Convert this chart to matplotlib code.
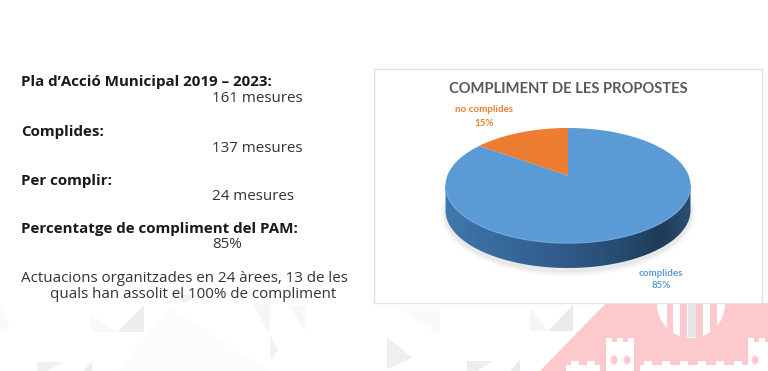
import matplotlib
matplotlib.use("Agg")
import matplotlib.pyplot as plt
import numpy as np
from matplotlib.patches import PathPatch, Polygon, Rectangle, Ellipse
from matplotlib.path import Path

# data
categories = ["no complides", "complides"]
percents = [15, 85]
pie_colors = ["#ED7D31", "#5B9BD5"]
title = "COMPLIMENT DE LES PROPOSTES"

headings = ["Pla d\u2019Acci\u00f3 Municipal 2019 \u2013 2023:", "Complides:", "Per complir:",
            "Percentatge de compliment del PAM:"]
heading_vals = ["161 mesures", "137 mesures", "24 mesures", "85%"]
footnote = ["Actuacions organitzades en 24 \u00e0rees, 13 de les", "quals han assolit el 100% de compliment"]

W, H = 768, 371
fig = plt.figure(figsize=(W / 100, H / 100), dpi=100, facecolor="white")
ax = fig.add_axes([0, 0, 1, 1])

# background triangles
greys = [
    ([(144, 305), (144, 332), (117, 332)], "#eeeeee"),
    ([(90, 315), (117, 332), (90, 332)], "#f9f9f9"),
    ([(37, 362), (63, 362), (47, 371), (37, 371)], "#f0f0f0"),
    ([(92, 362), (92, 371), (83, 371)], "#ebebeb"),
    ([(170, 308), (270, 371), (118, 371)], "#fcfcfc"),
    ([(253, 304), (270, 304), (270, 335)], "#f5f5f5"),
    ([(173, 295), (197, 295), (185, 303)], "#f0f0f0"),
    ([(0, 305), (0, 330), (10, 328)], "#fafafa"),
    ([(387, 337), (412, 358), (387, 369)], "#efefef"),
    ([(270, 335), (278, 350), (270, 360)], "#f2f2f2"),
    ([(290, 306), (305, 306), (305, 331)], "#f7f7f7"),
    ([(467, 361), (493, 361), (477, 371), (467, 371)], "#eeeeee"),
    ([(520, 360), (520, 371), (510, 371)], "#ebebeb"),
    ([(530, 308), (548, 331), (530, 331)], "#f5f5f5"),
    ([(573, 305), (573, 331), (548, 331)], "#eaeaea"),
    ([(395, 306), (440, 306), (440, 335)], "#fafafa"),
]
for pts, c in greys:
    ax.add_patch(Polygon(pts, closed=True, fc=c, ec="none", zorder=1))

# pink logo
pink = "#fcc9cd"
ax.add_patch(Polygon([(540, 371), (606, 303), (768, 303), (768, 371)], fc=pink, ec="none", zorder=2))
shield = Ellipse((691, 304), 68, 68, fc="white", ec="none", zorder=3)
ax.add_patch(shield)
for x0, x1 in [(667, 673), (680, 687), (696, 703), (710, 717)]:
    ax.add_patch(Rectangle((x0, 303), x1 - x0, 40, fc=pink, ec="none", zorder=4))
ax.add_patch(Rectangle((688, 304), 8, 33, fc="#e6e6e6", ec="none", zorder=4))
towers = [
    (606, 342, 28, 29), (748, 342, 20, 29),
    (606, 338, 6, 5), (617, 338, 6, 5), (628, 338, 6, 5),
    (748, 338, 6, 5), (759, 338, 6, 5),
    (566, 365, 34, 6), (640, 365, 108, 6),
    (571, 361, 8, 5), (587, 361, 8, 5), (644, 361, 8, 5), (662, 361, 8, 5),
    (680, 361, 8, 5), (698, 361, 8, 5), (716, 361, 8, 5), (734, 361, 8, 5),
]
for x, y, w, h in towers:
    ax.add_patch(Rectangle((x, y), w, h, fc="white", ec="none", zorder=4))
for cx in [614, 627, 755]:
    ax.add_patch(Ellipse((cx, 360), 7, 9, fc=pink, ec="none", zorder=5))

# left text
ys_head = [82, 132, 181, 229]
ys_val = [99, 148, 197, 245]
for s, v, yh, yv in zip(headings, heading_vals, ys_head, ys_val):
    ax.text(21, yh, s, family="Open Sans", weight="bold", fontsize=10.9, color="#1a1a1a", va="center", zorder=6)
    ax.text(212, yv, v, family="Open Sans", fontsize=10.9, color="#333333", va="center", zorder=6)
ax.text(21, 278, footnote[0], family="Open Sans", fontsize=10.9, color="#333333", va="center", zorder=6)
ax.text(50, 295, footnote[1], family="Open Sans", fontsize=10.9, color="#333333", va="center", zorder=6)

# chart panel
ax.add_patch(Rectangle((373.5, 69), 388.5, 234, fc="white", ec="#e2e2e2", lw=1, zorder=6))
ax.text(568, 89, title, family="Lato", weight="bold", fontsize=10.65, color="#595959",
        ha="center", va="center", zorder=7)

# pie geometry in pixels
cx, cy, rx, ry, depth = 568, 185.5, 122.5, 57.5, 25
tilt = 0.17

# soft shadow under the disc
for grow, a in [(10, 0.05), (6, 0.06), (3, 0.08)]:
    ax.add_patch(Ellipse((cx, cy + depth + 3), 2 * rx + grow, 2 * ry + grow, fc="#888888", ec="none",
                         alpha=a, zorder=7))

# rim with a gradient clipped to the disc side
t = np.linspace(0, np.pi, 200)
rim_top = np.c_[cx + rx * np.cos(t), cy + ry * np.sin(t)]
rim_bot = np.c_[cx + rx * np.cos(t), cy + depth + ry * np.sin(t)][::-1]
rim_path = Path(np.r_[rim_top, rim_bot, rim_top[:1]], closed=False)
stops_x = [445, 480, 560, 620, 660, 690]
stops_r = [0x3f, 0x3a, 0x30, 0x27, 0x1e, 0x2c]
stops_g = [0x78, 0x6e, 0x5c, 0x4b, 0x3b, 0x50]
stops_b = [0xae, 0xa2, 0x8b, 0x70, 0x58, 0x72]
xs = np.arange(445, 691)
grad = np.stack([np.interp(xs, stops_x, s) / 255 for s in (stops_r, stops_g, stops_b)], axis=-1)[None, :, :]
im = ax.imshow(grad, extent=(445, 691, 275, 180), aspect="auto", zorder=8)
im.set_clip_path(PathPatch(rim_path, transform=ax.transData))

# pie slices, then projected onto the tilted disc
wedges, _ = ax.pie(percents, colors=pie_colors, startangle=90, counterclock=True, radius=1)
for w, c in zip(wedges, pie_colors):
    a = np.radians(np.linspace(w.theta1, w.theta2, 300))
    px = np.r_[0, np.cos(a)]
    py = np.r_[0, np.sin(a)]
    den = tilt * py + 1
    nx = px * np.sqrt(1 - tilt ** 2) / den
    ny = (py + tilt) / den
    verts = np.c_[cx + rx * nx, cy - ry * ny]
    w.remove()
    ax.add_patch(Polygon(verts, closed=True, fc=c, ec="none", zorder=9))

# front highlight of the top face
ax.plot(rim_top[:, 0], rim_top[:, 1], color="#6ea6da", lw=1, zorder=10)

# slice labels
ax.text(484, 110, categories[0], family="Lato", weight="bold", fontsize=7, color=pie_colors[0],
        ha="center", va="center", zorder=11)
ax.text(484, 123, f"{percents[0]}%", family="Lato", weight="bold", fontsize=7, color=pie_colors[0],
        ha="center", va="center", zorder=11)
ax.text(661, 273, categories[1], family="Lato", weight="bold", fontsize=7, color=pie_colors[1],
        ha="center", va="center", zorder=11)
ax.text(661, 286, f"{percents[1]}%", family="Lato", weight="bold", fontsize=7, color=pie_colors[1],
        ha="center", va="center", zorder=11)

ax.set_aspect("auto")
ax.set_xlim(0, W)
ax.set_ylim(H, 0)
ax.axis("off")

fig.savefig("out.png", dpi=100)
